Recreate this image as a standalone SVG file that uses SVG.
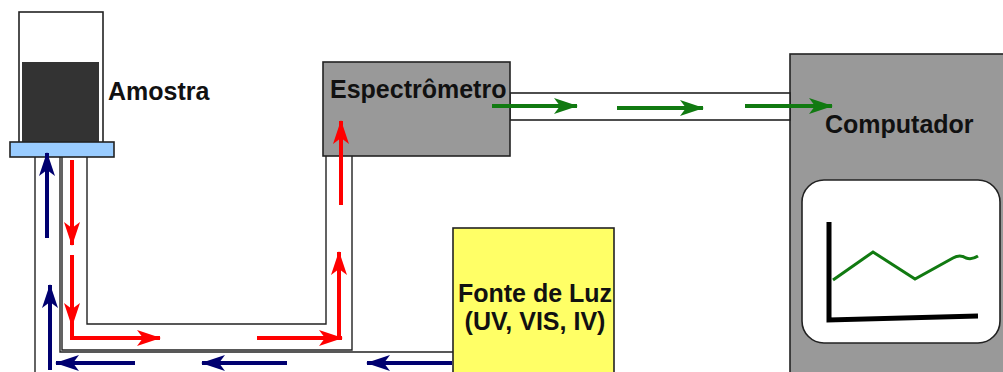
<svg xmlns="http://www.w3.org/2000/svg" width="1003" height="372" viewBox="0 0 1003 372">
<style>
.lbl{font-family:"Liberation Sans",Arial,sans-serif;font-weight:bold;font-size:25px;fill:#111}
.fib{fill:none;stroke:#222;stroke-width:1.4}
.box{stroke:#222;stroke-width:1.6}
.r{fill:none;stroke:#ff0000;stroke-width:4}
.b{fill:none;stroke:#000070;stroke-width:4}
.g{fill:none;stroke:#117a11;stroke-width:4}
</style>
<defs>
<marker id="hr" viewBox="0 0 24 16" refX="23" refY="8" markerUnits="userSpaceOnUse" markerWidth="24" markerHeight="16" orient="auto"><path d="M0,0 L24,8 L0,16 L6,8 z" fill="#ff0000"/></marker>
<marker id="hb" viewBox="0 0 24 16" refX="23" refY="8" markerUnits="userSpaceOnUse" markerWidth="24" markerHeight="16" orient="auto"><path d="M0,0 L24,8 L0,16 L6,8 z" fill="#000070"/></marker>
<marker id="hg" viewBox="0 0 24 16" refX="23" refY="8" markerUnits="userSpaceOnUse" markerWidth="24" markerHeight="16" orient="auto"><path d="M0,0 L24,8 L0,16 L6,8 z" fill="#117a11"/></marker>
</defs>
<rect width="1003" height="372" fill="#fff"/>
<g id="computador">
<rect class="box" x="790" y="54" width="220" height="330" fill="#999999"/>
<text class="lbl" x="825" y="133">Computador</text>
<rect x="802" y="180" width="198" height="163" rx="22" fill="#fff" stroke="#222" stroke-width="1.6"/>
<path d="M829,222 L829,320 L978,316" fill="none" stroke="#000" stroke-width="5"/>
<path d="M833,280 L873,252 L915,279 L953,258 Q960,254 966,258 Q972,260 978,256" fill="none" stroke="#117a11" stroke-width="3"/>
</g>
<g id="fibras">
<rect x="510" y="93" width="280" height="27" fill="#fff" stroke="#222" stroke-width="1.6"/>
<path class="fib" d="M35,157 L35,380"/>
<path class="fib" d="M60,157 L60,352 L453,352"/>
<path class="fib" d="M62,157 L62,350 L352,350 L352,156"/>
<path class="fib" d="M87,157 L87,324 L326,324 L326,156"/>
</g>
<g id="amostra">
<rect x="19" y="12" width="84" height="131" fill="#fff" stroke="#222" stroke-width="1.6"/>
<rect x="22" y="62" width="77" height="81" fill="#333333"/>
<rect x="10" y="142" width="104" height="15" fill="#99ccff" stroke="#222" stroke-width="1.6"/>
<text class="lbl" x="108" y="100">Amostra</text>
</g>
<g id="espectrometro">
<rect class="box" x="323" y="62" width="187" height="94" fill="#999999"/>
<text class="lbl" x="330" y="98">Espectrômetro</text>
</g>
<g id="fonte">
<rect class="box" x="453" y="228" width="161" height="160" fill="#ffff66"/>
<text class="lbl" x="535" y="302" text-anchor="middle">Fonte de Luz</text>
<text class="lbl" x="535" y="330" text-anchor="middle">(UV, VIS, IV)</text>
</g>
<g id="conectores">
<path class="r" d="M72,160 L72,245" marker-end="url(#hr)"/>
<path class="r" d="M72,255 L72,326" marker-end="url(#hr)"/>
<path class="r" d="M72,322 L72,338 L160,338" marker-end="url(#hr)"/>
<path class="r" d="M257,338 L342,338" marker-end="url(#hr)"/>
<path class="r" d="M339,340 L339,252" marker-end="url(#hr)"/>
<path class="r" d="M341,205 L341,121" marker-end="url(#hr)"/>
<path class="b" d="M47,238 L47,153" marker-end="url(#hb)"/>
<path class="b" d="M135,363 L56,363" marker-end="url(#hb)"/>
<path class="b" d="M50,370 L50,363 L50,285" marker-end="url(#hb)"/>
<path class="b" d="M287,363 L202,363" marker-end="url(#hb)"/>
<path class="b" d="M452,363 L367,363" marker-end="url(#hb)"/>
<path class="g" d="M492,106 L577,106" marker-end="url(#hg)"/>
<path class="g" d="M617,108 L703,108" marker-end="url(#hg)"/>
<path class="g" d="M745,106 L832,106" marker-end="url(#hg)"/>
</g>
</svg>
